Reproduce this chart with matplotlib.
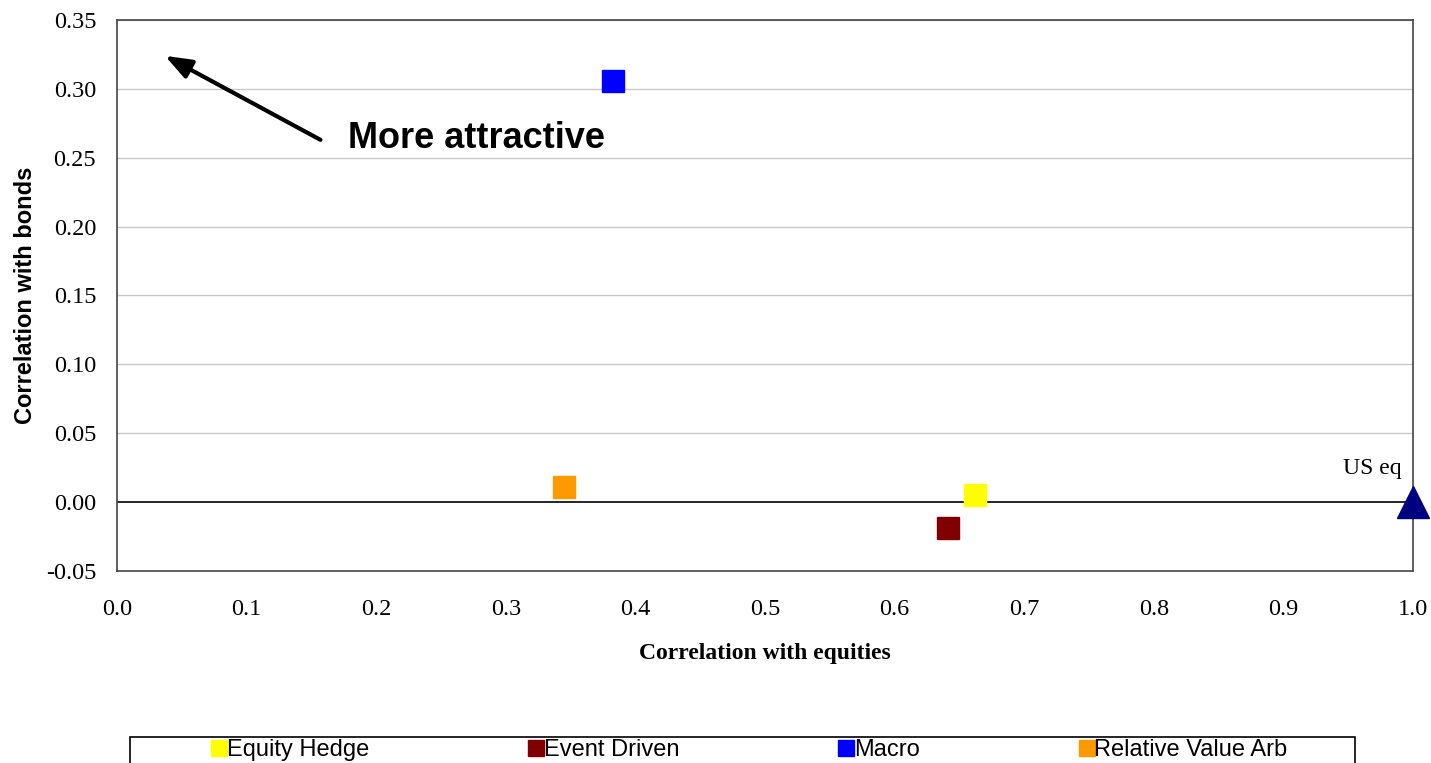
import matplotlib.pyplot as plt
from matplotlib.lines import Line2D
from matplotlib.patches import Rectangle

# Strategy correlations (equities, bonds)
strategies = ["Equity Hedge", "Event Driven", "Macro", "Relative Value Arb"]
corr_equities = [0.662, 0.641, 0.383, 0.345]
corr_bonds = [0.005, -0.019, 0.306, 0.011]
colors = ["#FFFF00", "#800000", "#0000FF", "#FF9900"]

# Benchmark
bench_name = "US eq"
bench_x = [1.0]
bench_y = [0.0]

x_ticks = [0.0, 0.1, 0.2, 0.3, 0.4, 0.5, 0.6, 0.7, 0.8, 0.9, 1.0]
y_ticks = [-0.05, 0.0, 0.05, 0.10, 0.15, 0.20, 0.25, 0.30, 0.35]

serif = "Liberation Serif"
sans = "Liberation Sans"

fig = plt.figure(figsize=(14.31, 7.63), dpi=100)
ax = fig.add_axes([117 / 1431, 1 - 571 / 763, 1296 / 1431, 551 / 763])

for y in y_ticks:
    if y != 0.0:
        ax.axhline(y, color="#c8c8c8", lw=1, zorder=0)
ax.axhline(0.0, color="black", lw=1.2, zorder=1)

for name, x, y, c in zip(strategies, corr_equities, corr_bonds, colors):
    ax.plot(x, y, marker="s", ms=15.5, color=c, mec=c, ls="none", zorder=3,
            clip_on=False)

ax.plot(bench_x, bench_y, marker="^", ms=23, color="#000080", ls="none",
        zorder=4, clip_on=False)
ax.text(bench_x[0] - 0.009, bench_y[0] + 0.017, bench_name, ha="right",
        va="bottom", fontsize=17, family=serif)

ax.set_xlim(0, 1.0)
ax.set_ylim(-0.05, 0.35)
ax.set_xticks(x_ticks)
ax.set_yticks(y_ticks)
ax.set_xticklabels(["%.1f" % v for v in x_ticks], family=serif, fontsize=17.5)
ax.set_yticklabels(["%.2f" % v for v in y_ticks], family=serif, fontsize=17.5)
ax.tick_params(axis="y", length=0, pad=15)
ax.tick_params(axis="x", length=0, pad=20)
for s in ax.spines.values():
    s.set_color("#444444")
    s.set_linewidth(1.2)

ax.set_xlabel("Correlation with equities", family=serif, fontweight="bold",
              fontsize=17, labelpad=17)
ax.set_ylabel("Correlation with bonds", family=sans, fontweight="bold",
              fontsize=17, labelpad=6)

ax.annotate("", xy=(0.037, 0.324), xytext=(0.157, 0.263),
            arrowprops=dict(arrowstyle="-|>,head_length=1.6,head_width=0.6",
                            color="black", lw=3, shrinkA=0, shrinkB=0))
ax.text(0.178, 0.264, "More attractive", family=sans, fontweight="bold",
        fontsize=26, ha="left", va="center")

# legend box (extends past the bottom edge like the original)
fig.patches.append(Rectangle((130 / 1431, -0.05), 1225 / 1431,
                             0.05 + 26 / 763, transform=fig.transFigure,
                             fill=False, edgecolor="black", lw=1.2))
handles = [Line2D([], [], marker="s", ls="none", ms=11, color=c, mec=c)
           for c in colors]
leg = fig.legend(handles, strategies, loc="center", ncol=4,
                 bbox_to_anchor=(750 / 1431, 1 - 750 / 763),
                 prop={"family": sans, "size": 17}, handlelength=0.55,
                 handletextpad=0.05, columnspacing=6.8, borderpad=0,
                 frameon=False)

fig.savefig("out.png", dpi=100)
